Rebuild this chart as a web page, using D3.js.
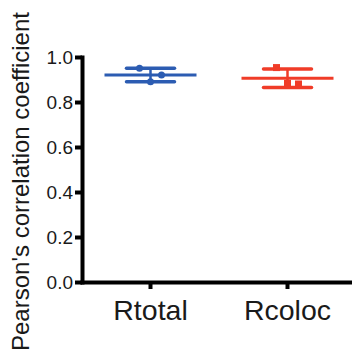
<!DOCTYPE html>
<html>
<head>
<meta charset="utf-8">
<script src="https://cdn.jsdelivr.net/npm/d3@7"></script>
<style>
  body { margin: 0; background: #fff; }
  svg { display: block; font-family: "Liberation Sans", Arial, sans-serif; }
</style>
</head>
<body>
<div id="chart"></div>
<script>
// valores
const categories = ["Rtotal", "Rcoloc"];
const rtotal = [0.95, 0.89, 0.92];
const rcoloc = [0.953, 0.883, 0.88];
const series = [rtotal, rcoloc];
const colors = ["#2c5cb2", "#f03c28"];
const yTicks = [0, 0.2, 0.4, 0.6, 0.8, 1.0];

const width = 352, height = 358;

const svg = d3.select("#chart").append("svg")
    .attr("width", width)
    .attr("height", height);

const x = d3.scaleBand().domain(categories).range([82, 356]).padding(0);
const y = d3.scaleLinear().domain([0, 1]).range([282, 57]);

// eje y
const yAxis = svg.append("g")
    .attr("transform", "translate(82,0)")
    .call(d3.axisLeft(y).tickValues(yTicks).tickFormat(d3.format(".1f")).tickSize(7).tickSizeOuter(0).tickPadding(2));

// eje x
const xAxis = svg.append("g")
    .attr("transform", "translate(0,282)")
    .call(d3.axisBottom(x).tickSize(7).tickSizeOuter(0).tickPadding(4));

[yAxis, xAxis].forEach(g => {
    g.select(".domain").attr("stroke", "#000").attr("stroke-width", 4).attr("stroke-linecap", "square");
    g.selectAll(".tick line").attr("stroke", "#000").attr("stroke-width", 4);
});
yAxis.selectAll(".tick text").attr("font-size", 19).attr("fill", "#1a1a1a");
xAxis.selectAll(".tick text").attr("font-size", 28.5).attr("fill", "#1a1a1a").attr("dy", "0.95em");

// etiqueta del eje y
svg.append("text")
    .attr("transform", "translate(29," + ((y(0) + y(1)) / 2 + 12) + ") rotate(-90)")
    .attr("text-anchor", "middle")
    .attr("font-size", 24)
    .attr("fill", "#1a1a1a")
    .text("Pearson's correlation coefficient");

// media, desviacion y puntos
series.forEach((vals, i) => {
    const cx = x(categories[i]) + x.bandwidth() / 2;
    const m = d3.mean(vals);
    const sd = d3.deviation(vals);
    const g = svg.append("g").attr("stroke", colors[i]).attr("fill", colors[i]);

    g.append("line")
        .attr("x1", cx).attr("x2", cx)
        .attr("y1", y(m + sd)).attr("y2", y(m - sd))
        .attr("stroke-width", 2.5);
    [m + sd, m - sd].forEach(v => {
        g.append("line")
            .attr("x1", cx - 24).attr("x2", cx + 24)
            .attr("y1", y(v)).attr("y2", y(v))
            .attr("stroke-width", 3.5)
            .attr("stroke-linecap", "round");
    });
    g.append("line")
        .attr("x1", cx - 46).attr("x2", cx + 46)
        .attr("y1", y(m)).attr("y2", y(m))
        .attr("stroke-width", 3);

    vals.forEach((v, j) => {
        const px = cx + (j - 1) * 11;
        if (i === 0) {
            g.append("circle").attr("cx", px).attr("cy", y(v)).attr("r", 3.5).attr("stroke", "none");
        } else {
            g.append("rect").attr("x", px - 3.5).attr("y", y(v) - 3.5)
                .attr("width", 7).attr("height", 7).attr("stroke", "none");
        }
    });
});
</script>
</body>
</html>
